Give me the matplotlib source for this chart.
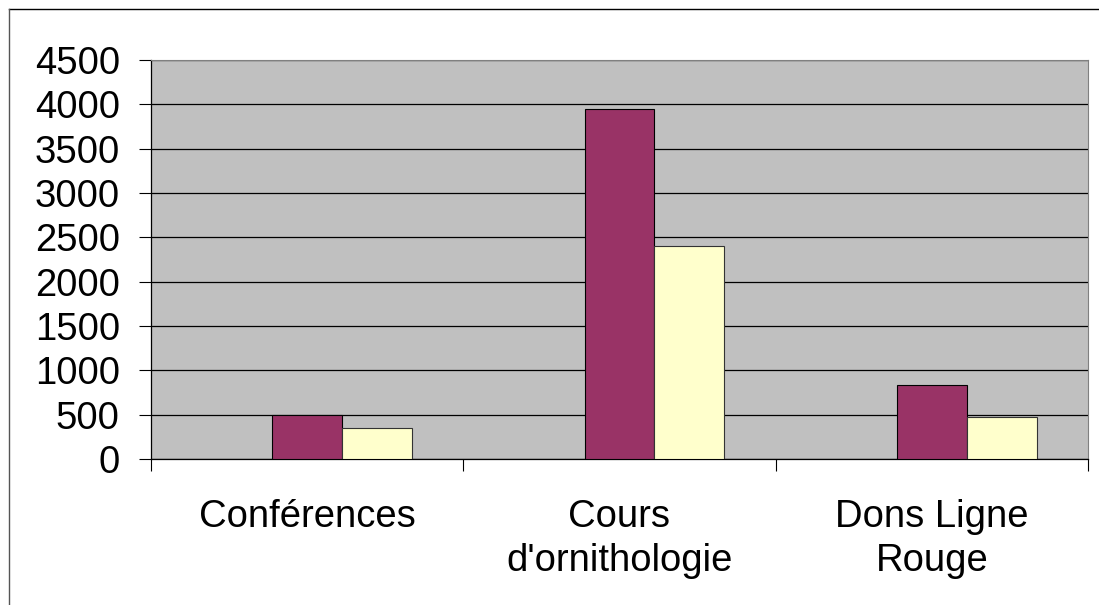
import matplotlib
matplotlib.use('Agg')
import matplotlib.pyplot as plt
from matplotlib.lines import Line2D
import numpy as np

categories = ['Conférences', "Cours\nd'ornithologie", 'Dons Ligne\nRouge']
series_a = [500, 3950, 830]   # purple
series_b = [345, 2400, 475]   # light yellow
y_ticks = [0, 500, 1000, 1500, 2000, 2500, 3000, 3500, 4000, 4500]

plt.rcParams['font.family'] = ['Liberation Sans', 'DejaVu Sans']

fig = plt.figure(figsize=(10.99, 6.05), dpi=100)
ax = fig.add_axes([151 / 1099, 1 - 459 / 605, (1088 - 151) / 1099, (459 - 60) / 605])
ax.set_facecolor('#C0C0C0')

x = np.arange(len(categories))
w = 0.224
ax.bar(x, series_a, width=w, color='#993366', edgecolor='black', linewidth=0.8, zorder=3)
ax.bar(x + w, series_b, width=w, color='#FFFFCC', edgecolor='#333333', linewidth=0.8, zorder=3)

ax.set_xlim(-0.5, len(categories) - 0.5)
ax.set_ylim(0, 4500)
ax.set_yticks(y_ticks)
ax.set_yticklabels([str(v) for v in y_ticks], fontsize=27.5)
ax.yaxis.grid(True, color='black', linewidth=0.9, zorder=0)
ax.set_axisbelow(True)

ax.set_xticks(x)
ax.set_xticklabels(categories, fontsize=27.5, linespacing=1.26)
ax.set_xticks(np.arange(len(categories) + 1) - 0.5, minor=True)
ax.tick_params(axis='x', which='major', length=0, pad=29)
ax.tick_params(axis='x', which='minor', length=8.5, width=0.8, color='black')
ax.tick_params(axis='y', length=8.5, width=0.8, pad=14, colors='black')

for s in ['left', 'bottom']:
    ax.spines[s].set_color('black')
    ax.spines[s].set_linewidth(0.9)
ax.spines['top'].set_color('#808080')
ax.spines['right'].set_color('#808080')

# outer chart border (top and left only visible)
fig.add_artist(Line2D([9 / 1099, 1], [1 - 9 / 605, 1 - 9 / 605], color='black', linewidth=1, transform=fig.transFigure))
fig.add_artist(Line2D([9 / 1099, 9 / 1099], [0, 1 - 9 / 605], color='#555555', linewidth=1, transform=fig.transFigure))

fig.savefig('out.png', dpi=100, facecolor='white')
